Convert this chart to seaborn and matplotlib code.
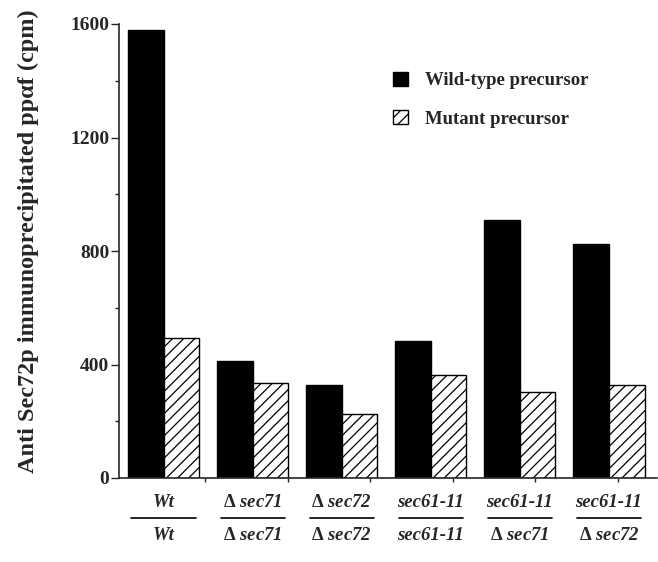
import numpy as np
import pandas as pd
import matplotlib
matplotlib.use("Agg")
import matplotlib.pyplot as plt
import matplotlib.transforms as mtransforms
import seaborn as sns

# values (cpm)
top_labels = ['Wt', 'Δsec71', 'Δsec72', 'sec61-11', 'sec61-11', 'sec61-11']
bottom_labels = ['Wt', 'Δsec71', 'Δsec72', 'sec61-11', 'Δsec71', 'Δsec72']
wild_type = [1580, 413, 327, 483, 910, 824]
mutant = [493, 334, 226, 364, 304, 327]
series_names = ['Wild-type precursor', 'Mutant precursor']
y_ticks = [0, 400, 800, 1200, 1600]

sns.set_style("ticks")
plt.rcParams['font.family'] = ['Liberation Serif', 'DejaVu Serif']
plt.rcParams['font.weight'] = 'bold'
plt.rcParams['mathtext.fontset'] = 'custom'
plt.rcParams['mathtext.rm'] = 'Liberation Serif'
plt.rcParams['mathtext.bf'] = 'Liberation Serif:bold'
plt.rcParams['mathtext.it'] = 'Liberation Serif:italic'
plt.rcParams['mathtext.bfit'] = 'Liberation Serif:italic:bold'
plt.rcParams['hatch.linewidth'] = 0.9


def pretty(s):
    if s.startswith('Δ'):
        return r"$\mathbf{\Delta}\ \mathbfit{" + s[1:] + "}$"
    return s


strains = [f"{a}/{b}" for a, b in zip(top_labels, bottom_labels)]
df = pd.DataFrame({
    'strain': strains * 2,
    'precursor': [series_names[0]] * len(strains) + [series_names[1]] * len(strains),
    'cpm': wild_type + mutant,
})

fig = plt.figure(figsize=(6.58, 5.62), dpi=100)
ax = fig.add_axes([119 / 658, 1 - 478 / 562, 538 / 658, 454 / 562])

sns.barplot(data=df, x='strain', y='cpm', hue='precursor', order=strains,
            hue_order=series_names, palette=['black', 'white'], saturation=1,
            edgecolor='black', linewidth=1.0, width=0.8, legend=False, ax=ax)

for bar in ax.containers[1]:
    bar.set_hatch('///')

ax.set_xlim(-0.5, 5.54)
ax.set_ylim(0, 1600)
ax.set_yticks(y_ticks)
ax.set_yticks(np.arange(200, 1600, 400), minor=True)
ax.set_yticklabels([str(t) for t in y_ticks], fontsize=14, fontweight='bold')
ax.tick_params(axis='y', which='both', direction='out', length=6, width=1, pad=1)
ax.tick_params(axis='y', which='minor', length=3)

ax.set_xticks(np.linspace(0.47, 5.10, 6))
ax.set_xticklabels([])
ax.tick_params(axis='x', direction='out', length=3, width=1)
ax.set_xlabel('')
ax.set_ylabel('Anti Sec72p immunoprecipitated ppαf (cpm)', fontsize=17.5,
              fontweight='bold')
ax.yaxis.set_label_coords(-0.148, 0.522)

sns.despine(ax=ax)
for side in ['left', 'bottom']:
    ax.spines[side].set_linewidth(1.2)

trans = mtransforms.blended_transform_factory(ax.transData, ax.transAxes)
for i, (a, b) in enumerate(zip(top_labels, bottom_labels)):
    ax.text(i, -0.053, pretty(a), transform=trans, ha='center', va='center',
            fontsize=13.5, fontweight='bold', fontstyle='italic')
    ax.text(i, -0.127, pretty(b), transform=trans, ha='center', va='center',
            fontsize=13.5, fontweight='bold', fontstyle='italic')
    ax.plot([i - 0.36, i + 0.36], [-0.088, -0.088], transform=trans,
            color='black', lw=1.2, clip_on=False)

ax.legend([ax.containers[0], ax.containers[1]], series_names,
          loc='upper left', bbox_to_anchor=(0.51, 0.895), frameon=False,
          borderaxespad=0, borderpad=0, handlelength=0.8, handleheight=0.8,
          handletextpad=0.9, labelspacing=1.1,
          prop={'family': 'Liberation Serif', 'weight': 'bold', 'size': 13.5})

fig.savefig('out.png', dpi=100)
